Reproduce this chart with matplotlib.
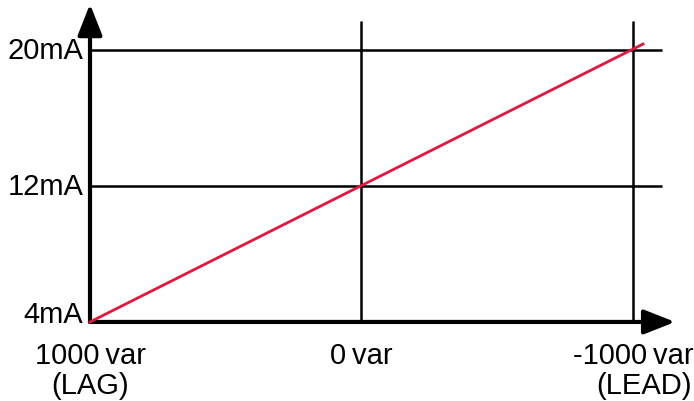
import numpy as np
import matplotlib.pyplot as plt

# values
var_ticks = [1000, 0, -1000]
var_labels = ['1000\u2009var', '0\u2009var', '-1000\u2009var']
var_notes = ['(LAG)', '', '(LEAD)']
ma_ticks = [4, 12, 20]
ma_labels = ['4mA', '12mA', '20mA']
line_var = [1000, -1037]
line_ma = [4, 20.35]

plt.rcParams['font.family'] = ['Liberation Sans', 'DejaVu Sans']

fig = plt.figure(figsize=(6.94, 4.02), dpi=100)
ax = fig.add_axes([0, 0, 1, 1])
ax.set_xlim(1331.5, -1224.7)
ax.set_ylim(-0.65, 23.0)
ax.axis('off')

# grid lines
for v in var_ticks[1:]:
    ax.plot([v, v], [4, 21.7], color='black', lw=1.8, solid_capstyle='butt', zorder=1)
for m in ma_ticks[1:]:
    ax.plot([1000, -1107], [m, m], color='black', lw=1.8, solid_capstyle='butt', zorder=1)

# axes with arrows
arrow = dict(arrowstyle='-|>,head_length=19,head_width=7.5', mutation_scale=1,
             lw=3, color='black', shrinkA=0, shrinkB=0)
ax.annotate('', xy=(-1155, 4), xytext=(1000, 4), arrowprops=arrow, zorder=3)
ax.annotate('', xy=(1000, 22.7), xytext=(1000, 4), arrowprops=arrow, zorder=3)

# the red line
ax.plot(line_var, line_ma, color='#e3173e', lw=2, zorder=4)

# y labels
y_off = [0.45, 0, 0]
for m, lab, off in zip(ma_ticks, ma_labels, y_off):
    ax.text(1025, m + off, lab, ha='right', va='center', fontsize=21)

# x labels
for v, lab in zip(var_ticks, var_labels):
    ax.text(v, 2.05, lab, ha='center', va='center', fontsize=21)
note_off = [0, 0, -40]
for v, lab, off in zip(var_ticks, var_notes, note_off):
    ax.text(v + off, 0.3, lab, ha='center', va='center', fontsize=21)

fig.savefig('out.png', dpi=100)
